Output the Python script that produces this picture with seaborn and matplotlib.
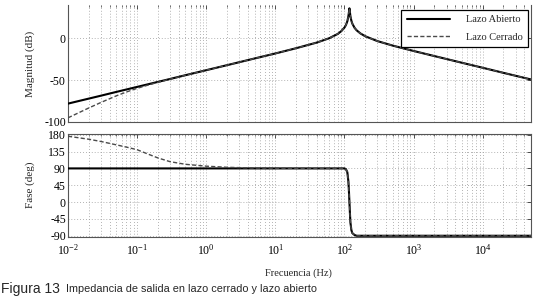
import matplotlib
matplotlib.use("Agg")
import matplotlib.pyplot as plt
import numpy as np
import pandas as pd
import seaborn as sns
from matplotlib.ticker import LogLocator, FixedLocator, NullFormatter
from matplotlib.lines import Line2D

# ---- data ----
freq_hz = [0.01, 0.02, 0.03, 0.05, 0.07, 0.1, 0.15, 0.2, 0.3, 0.5, 1, 2, 5, 10, 20,
           40, 60, 80, 90, 100, 105, 110, 114, 116, 118, 120, 122, 126, 130, 140,
           150, 170, 200, 300, 500, 1000, 2000, 5000, 10000, 20000, 50000]
mag_open_db = [-78, -72, -68.5, -64, -61.1, -58, -54.5, -52, -48.5, -44, -38, -32, -24, -18, -11.7,
               -4.9, 0.2, 5.4, 8.7, 13.0, 16.0, 20.5, 26.6, 31.1, 36.0, 31.2, 26.4, 21.1, 17.7, 12.7,
               9.7, 6.0, 2.6, -3.2, -8.6, -15.0, -21.1, -29.1, -35.1, -41.2, -49.1]
mag_closed_db = [-95, -83.2, -76.6, -68.7, -64.1, -59.7, -55.4, -52.5, -48.7, -44.1, -38, -32, -24, -18, -11.7,
                 -4.9, 0.2, 5.4, 8.7, 13.0, 16.0, 20.5, 26.6, 31.1, 36.0, 31.2, 26.4, 21.1, 17.7, 12.7,
                 9.7, 6.0, 2.6, -3.2, -8.6, -15.0, -21.1, -29.1, -35.1, -41.2, -49.1]
phase_open_deg = [90, 90, 90, 90, 90, 90, 90, 90, 90, 90, 90, 90, 90, 90, 90,
                  90, 90, 90, 90, 90, 88, 80, 55, 30, 0, -30, -55, -75, -83, -88,
                  -90, -90, -90, -90, -90, -90, -90, -90, -90, -90, -90]
phase_closed_deg = [176, 168, 162, 153, 147, 140, 127, 118, 108, 101, 96, 93, 91, 90.5, 90.3,
                    90, 90, 90, 90, 90, 88, 80, 55, 30, 0, -30, -55, -75, -83, -88,
                    -90, -90, -90, -90, -90, -90, -90, -90, -90, -90, -90]
series_names = ["Lazo Abierto", "Lazo Cerrado"]
mag_ticks = [-100, -50, 0]
phase_ticks = [-90, -45, 0, 45, 90, 135, 180]
x_major_ticks = [0.01, 0.1, 1, 10, 100, 1000, 10000]

df = pd.concat([
    pd.DataFrame({"f": freq_hz, "mag": mag_open_db, "phase": phase_open_deg, "serie": series_names[0]}),
    pd.DataFrame({"f": freq_hz, "mag": mag_closed_db, "phase": phase_closed_deg, "serie": series_names[1]}),
])

sns.set_style("white")
plt.rcParams["font.family"] = ["Liberation Serif", "DejaVu Serif"]
plt.rcParams["mathtext.fontset"] = "custom"
plt.rcParams["mathtext.rm"] = "Liberation Serif"
plt.rcParams["axes.unicode_minus"] = False

fig = plt.figure(figsize=(5.35, 3.01), dpi=100)
W, H = 535, 301
L, R = 68, 531
ax1 = fig.add_axes([L / W, 1 - 122 / H, (R - L) / W, (122 - 5) / H])
ax2 = fig.add_axes([L / W, 1 - 236.5 / H, (R - L) / W, (236.5 - 134) / H])

styles = {
    series_names[0]: dict(color="black", lw=1.5, ls="-", zorder=3),
    series_names[1]: dict(color="#4a4a4a", lw=1.0, ls=(0, (3, 1.6)), zorder=4),
}

for ax, col in ((ax1, "mag"), (ax2, "phase")):
    for name in series_names:
        sub = df[df["serie"] == name]
        st = styles[name]
        sns.lineplot(data=sub, x="f", y=col, ax=ax, color=st["color"], lw=st["lw"],
                     linestyle=st["ls"], zorder=st["zorder"], legend=False, estimator=None,
                     sort=False)
    ax.set_xscale("log")
    ax.set_xlim(0.01, 5e4)
    ax.xaxis.set_major_locator(FixedLocator(x_major_ticks))
    ax.xaxis.set_minor_locator(LogLocator(base=10, subs=np.arange(2, 10), numticks=100))
    ax.xaxis.set_minor_formatter(NullFormatter())
    ax.grid(True, which="both", axis="x", color="#9a9a9a", ls=(0, (1, 2.5)), lw=0.6)
    ax.grid(True, which="major", axis="y", color="#9a9a9a", ls=(0, (1, 2.5)), lw=0.6)
    ax.tick_params(which="both", direction="in", top=True, right=True, labelsize=8.5,
                   colors="#333333", labelcolor="black", pad=1.5)
    ax.tick_params(which="major", length=3, width=0.6)
    ax.tick_params(which="minor", length=1.6, width=0.5)
    ax.tick_params(axis="x", which="major", pad=4.5)
    for s in ax.spines.values():
        s.set_color("#555555")
        s.set_linewidth(0.8)
    ax.set_xlabel("")

ax1.set_ylim(-100, 40)
ax1.yaxis.set_major_locator(FixedLocator(mag_ticks))
ax1.set_xticklabels([])
ax1.spines["top"].set_visible(False)
ax1.set_ylabel("Magnitud (dB)", fontsize=8)
ax1.yaxis.set_label_coords((35 - L) / (R - L), 0.5)

ax2.set_ylim(-92, 182)
ax2.yaxis.set_major_locator(FixedLocator(phase_ticks))
ax2.set_ylabel("Fase (deg)", fontsize=8)
ax2.yaxis.set_label_coords((35 - L) / (R - L), 0.5)
ax2.set_xlabel("Frecuencia (Hz)", fontsize=7.5)
ax2.xaxis.set_label_coords(0.498, (236.5 - 268) / (236.5 - 134))

handles = [Line2D([], [], color=styles[n]["color"], lw=styles[n]["lw"], ls=styles[n]["ls"]) for n in series_names]
leg = ax1.legend(handles, series_names, loc="upper right", fontsize=7.5, frameon=True,
                 fancybox=False, edgecolor="black", framealpha=1, handlelength=4.2,
                 borderpad=0.5, labelspacing=0.8, handletextpad=1.5, borderaxespad=0,
                 bbox_to_anchor=((528 - L) / (R - L), (122 - 10) / 117))
leg.get_frame().set_linewidth(0.9)

fig.text(1 / W, 1 - 289 / H, "Figura 13", fontsize=10, family=["Liberation Sans", "DejaVu Sans"],
         va="center", ha="left")
fig.text(66 / W, 1 - 289.5 / H, "Impedancia de salida en lazo cerrado y lazo abierto", fontsize=7.8,
         family=["Liberation Sans Narrow", "Liberation Sans", "DejaVu Sans"], va="center", ha="left")

fig.savefig("out.png", dpi=100)
